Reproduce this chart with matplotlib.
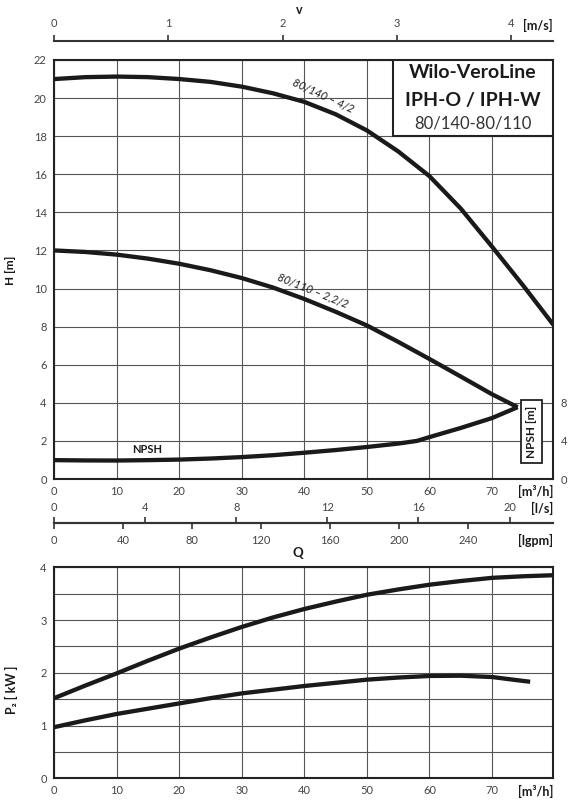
import matplotlib
matplotlib.use("Agg")
import matplotlib.pyplot as plt
from matplotlib.patches import Rectangle
from matplotlib.ticker import MultipleLocator

plt.rcParams["font.family"] = ["Lato", "DejaVu Sans"]

# pump curve 80/140 - 4/2, head in m over flow in m3/h
q_140 = [0, 5, 10, 15, 20, 25, 30, 35, 40, 45, 50, 55, 60, 65, 70, 75, 79.8]
h_140 = [21.0, 21.1, 21.13, 21.1, 21.0, 20.85, 20.6, 20.25, 19.8, 19.15,
         18.3, 17.2, 15.9, 14.2, 12.2, 10.15, 8.1]

# pump curve 80/110 - 2,2/2
q_110 = [0, 5, 10, 15, 20, 25, 30, 35, 40, 45, 50, 55, 60, 65, 70, 74.1]
h_110 = [12.0, 11.92, 11.78, 11.57, 11.3, 10.96, 10.55, 10.05, 9.45, 8.78,
         8.06, 7.2, 6.3, 5.38, 4.45, 3.77]

# NPSH in m (right scale)
q_npsh = [0, 5, 10, 15, 20, 25, 30, 35, 40, 45, 50, 55, 58, 60, 65, 70, 74.1]
npsh = [1.98, 1.95, 1.94, 1.98, 2.04, 2.15, 2.3, 2.5, 2.76, 3.04, 3.36,
        3.72, 4.0, 4.4, 5.36, 6.4, 7.54]

# power P2 in kW
q_p140 = [0, 5, 10, 15, 20, 25, 30, 35, 40, 45, 50, 55, 60, 65, 70, 75, 79.8]
p_140 = [1.52, 1.76, 1.99, 2.23, 2.46, 2.67, 2.87, 3.05, 3.21, 3.35, 3.48,
         3.58, 3.67, 3.74, 3.80, 3.83, 3.85]
q_p110 = [0, 5, 10, 15, 20, 25, 30, 35, 40, 45, 50, 55, 60, 65, 70, 74, 76.1]
p_110 = [0.97, 1.10, 1.22, 1.32, 1.42, 1.52, 1.61, 1.68, 1.75, 1.81, 1.87,
         1.91, 1.94, 1.945, 1.92, 1.86, 1.83]

q_ticks = [0, 10, 20, 30, 40, 50, 60, 70]
h_ticks = list(range(0, 23, 2))
npsh_ticks = [0, 4, 8]
p_ticks = [0, 1, 2, 3, 4]
v_ticks = [0, 1, 2, 3, 4]
ls_ticks = [0, 4, 8, 12, 16, 20]
igpm_ticks = [0, 40, 80, 120, 160, 200, 240]

Q_MAX = 79.8
Q_PER_V = 18.25     # m3/h per m/s
Q_PER_LS = 3.64     # m3/h per l/s
Q_PER_IGPM = 0.2756  # m3/h per Igpm

W, H = 582, 800
INK = "#1a1a1a"
GRID = "#555555"
TXT = "#444444"


def px(x, y):
    return x / W, 1 - y / H


def style(a):
    for s in a.spines.values():
        s.set_linewidth(1.5)
        s.set_color("#222222")
    a.grid(True, which="both", color=GRID, lw=0.8)
    a.set_axisbelow(True)
    a.tick_params(which="both", length=0, labelsize=8, labelcolor=TXT)
    a.tick_params(axis="y", pad=5.5)
    a.tick_params(axis="x", pad=4.7)


def style_sec(sec):
    for s in sec.spines.values():
        s.set_linewidth(1.5)
        s.set_color("#333333")
    sec.tick_params(direction="out", length=4, width=1.2, color="#333333",
                    labelsize=8, labelcolor=TXT, pad=4.5)


fig = plt.figure(figsize=(W / 100, H / 100), dpi=100)
ax = fig.add_axes([54.3 / W, 1 - 479 / H, 499 / W, 419 / H])
axp = fig.add_axes([54.3 / W, 1 - 778.3 / H, 499 / W, 211 / H])

# ---- head chart ----
style(ax)
ax.set_xlim(0, Q_MAX)
ax.set_ylim(0, 22)
ax.set_xticks(q_ticks)
ax.set_yticks(h_ticks)
ax.plot(q_140, h_140, color=INK, lw=3.1, solid_capstyle="butt",
        solid_joinstyle="round", zorder=4)
ax.plot(q_110, h_110, color=INK, lw=3.1, solid_capstyle="butt",
        solid_joinstyle="round", zorder=4)

ax.text(42.9, 20.1, "80/140 – 4/2", rotation=-25, fontsize=8, style="italic",
        ha="center", va="center", color=INK)
ax.text(41.3, 9.92, "80/110 – 2,2/2", rotation=-22, fontsize=8, style="italic",
        ha="center", va="center", color=INK)
ax.text(14.9, 1.57, "NPSH", fontsize=8, weight="bold", ha="center",
        va="center", color=INK)

ax.add_patch(Rectangle((54.2, 18.0), Q_MAX - 54.2, 4.0, facecolor="white",
                       edgecolor="#222222", lw=1.5, zorder=3))

axn = ax.twinx()
axn.set_ylim(0, 44)
axn.set_yticks(npsh_ticks)
axn.tick_params(length=0, labelsize=8, labelcolor=TXT, pad=5.5)
for s in axn.spines.values():
    s.set_visible(False)
axn.plot(q_npsh, npsh, color=INK, lw=3.1, solid_capstyle="butt",
         solid_joinstyle="round", zorder=4)
axn.text(76.3, 5.0, "NPSH [m]", rotation=90, fontsize=8.5, weight="bold",
         ha="center", va="center", color=INK,
         bbox=dict(boxstyle="square,pad=0.45", facecolor="white",
                   edgecolor="#222222", lw=1.3))

# velocity axis on top
secv = ax.secondary_xaxis(1 + 19 / 419,
                          functions=(lambda q: q / Q_PER_V,
                                     lambda v: v * Q_PER_V))
secv.set_xticks(v_ticks)
style_sec(secv)

# l/s and Igpm axis below
loc = -43.7 / 419
secl = ax.secondary_xaxis(loc, functions=(lambda q: q / Q_PER_LS,
                                          lambda l: l * Q_PER_LS))
secl.set_alignment("top")
secl.set_xticks(ls_ticks)
style_sec(secl)
secl.tick_params(pad=3.0)

secg = ax.secondary_xaxis(loc, functions=(lambda q: q / Q_PER_IGPM,
                                          lambda g: g * Q_PER_IGPM))
secg.set_xticks(igpm_ticks)
style_sec(secg)
secg.tick_params(pad=5)

# title box text
fig.text(*px(473, 73), "Wilo-VeroLine", fontsize=14, weight="bold",
         ha="center", va="center", color=INK)
fig.text(*px(473, 100.5), "IPH-O / IPH-W", fontsize=14, weight="bold",
         ha="center", va="center", color=INK)
fig.text(*px(473, 123.5), "80/140-80/110", fontsize=12,
         ha="center", va="center", color="#333333")

# ---- power chart ----
style(axp)
axp.set_xlim(0, Q_MAX)
axp.set_ylim(0, 4)
axp.set_xticks(q_ticks)
axp.set_yticks(p_ticks)
axp.yaxis.set_minor_locator(MultipleLocator(0.5))
axp.plot(q_p140, p_140, color=INK, lw=3.1, solid_capstyle="butt",
         solid_joinstyle="round", zorder=4)
axp.plot(q_p110, p_110, color=INK, lw=3.1, solid_capstyle="butt",
         solid_joinstyle="round", zorder=4)

# axis titles and units
bold = dict(weight="bold", color=INK, va="center")
fig.text(*px(299, 10), "v", fontsize=9, ha="center", **bold)
fig.text(*px(553, 25), "[m/s]", fontsize=9, ha="right", **bold)
fig.text(*px(553, 491), "[m³/h]", fontsize=9, ha="right", **bold)
fig.text(*px(553, 508), "[l/s]", fontsize=9, ha="right", **bold)
fig.text(*px(553, 540), "[lgpm]", fontsize=9, ha="right", **bold)
fig.text(*px(298, 553), "Q", fontsize=9.5, ha="center", **bold)
fig.text(*px(553, 791), "[m³/h]", fontsize=9, ha="right", **bold)
fig.text(*px(10, 270), "H [m]", fontsize=8.5, ha="center", rotation=90, **bold)
fig.text(*px(11, 690), "P₂ [ kW ]", fontsize=9, ha="center", rotation=90,
         **bold)

fig.savefig("out.png", dpi=100)
